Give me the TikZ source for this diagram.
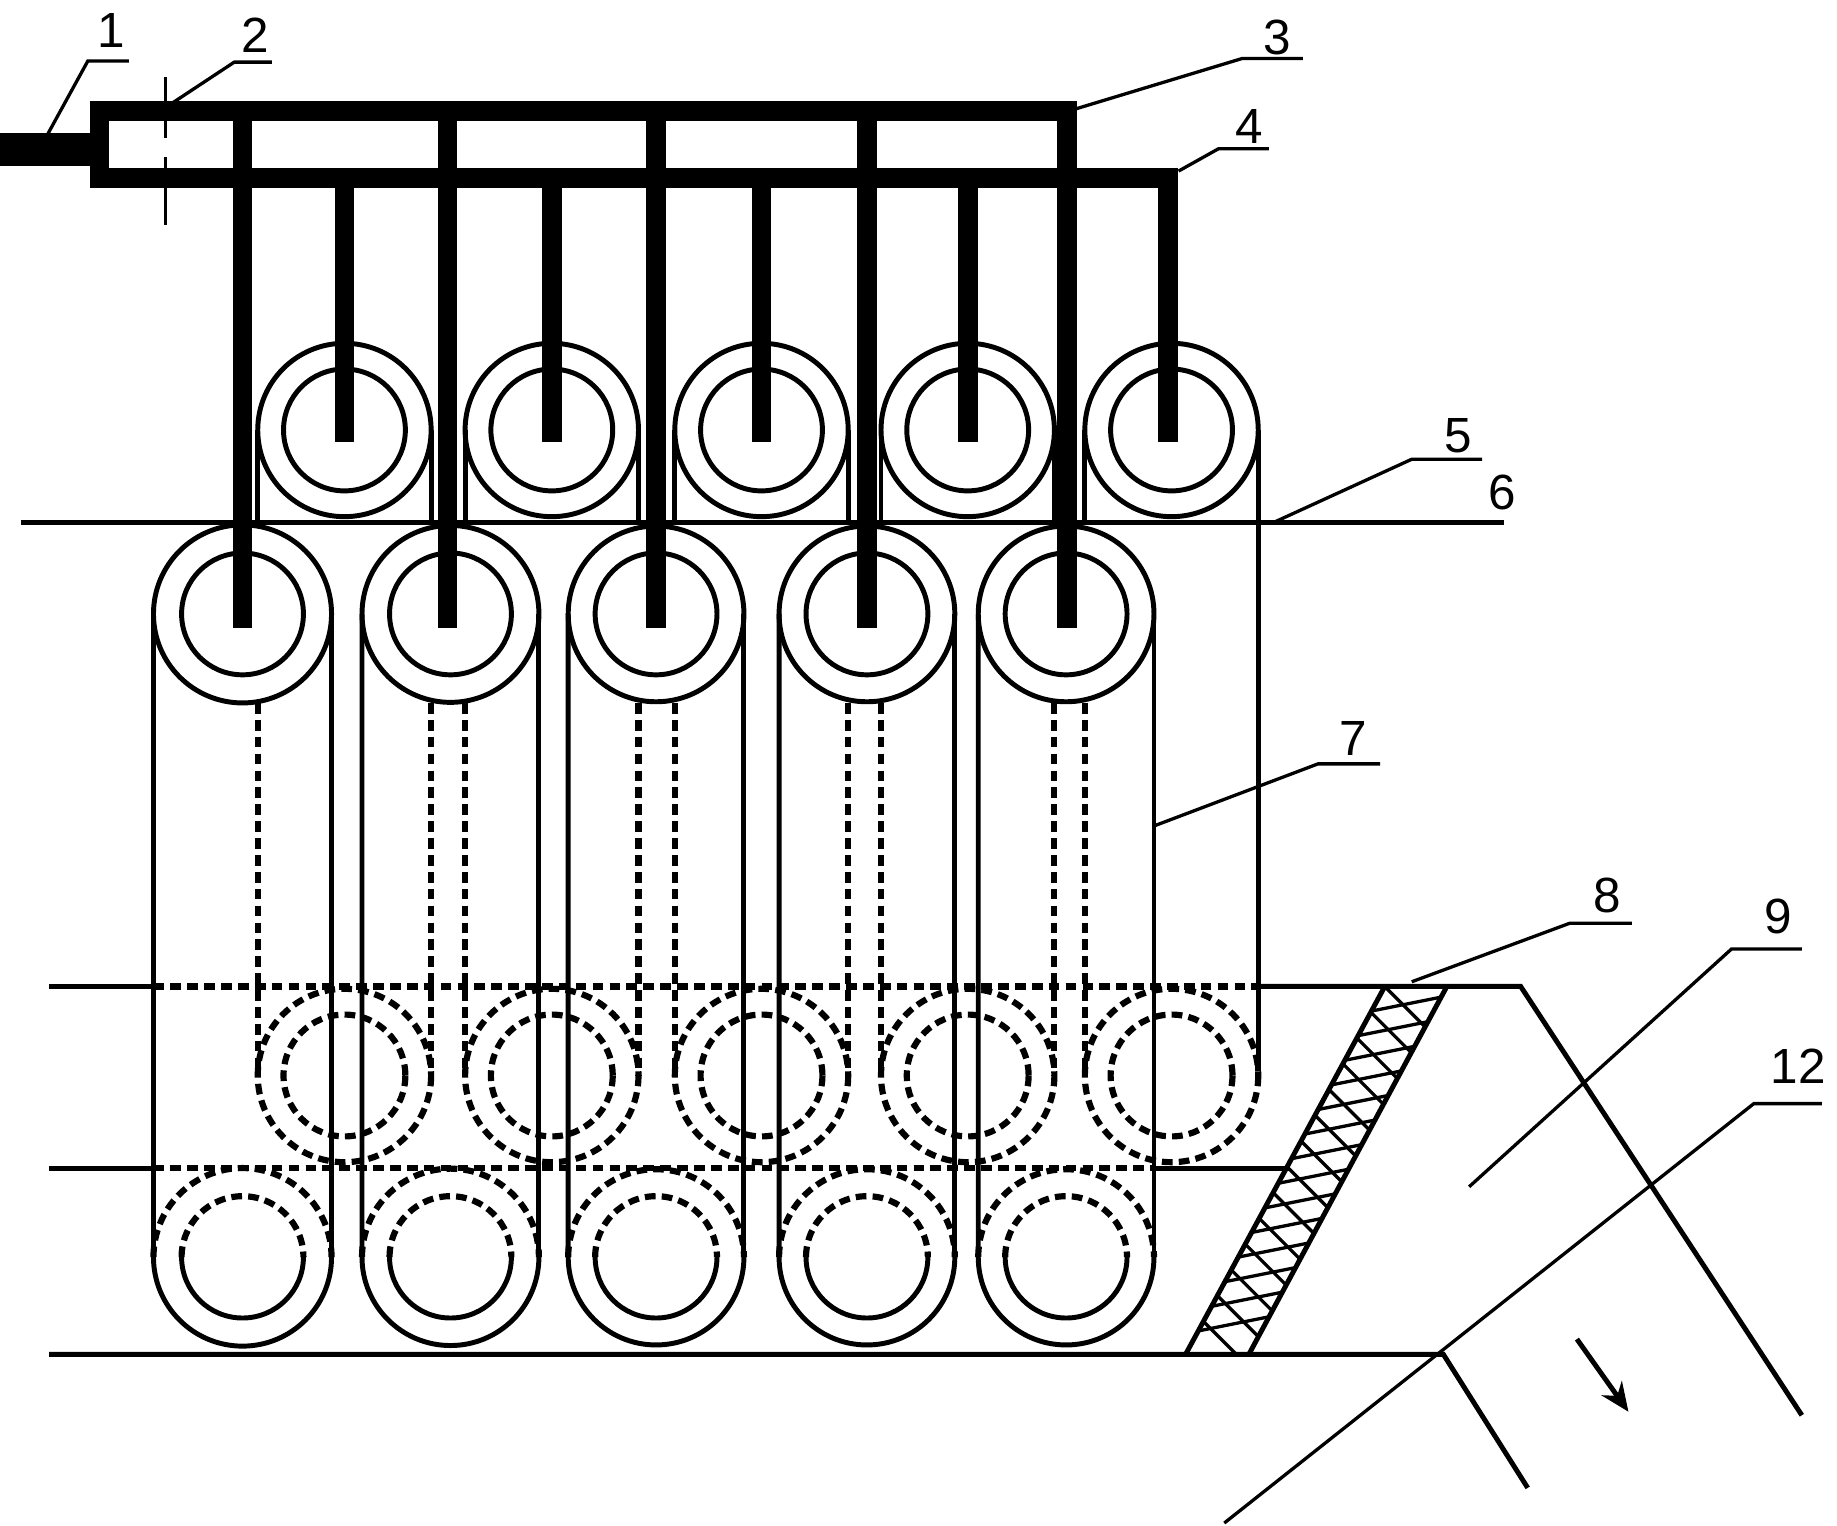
\documentclass[tikz,border=0pt]{standalone}
\usepackage{fontspec}
\setmainfont{Liberation Sans}
\usetikzlibrary{arrows.meta}

\tikzset{
    pipe/.style={line width=4.8pt, line join=miter},
    rollline/.style={line width=1.2pt},
    hiddenline/.style={line width=1.5pt, dash pattern=on 2.6pt off 1.5pt},
    wall/.style={line width=1.2pt},
    leader/.style={line width=.8pt},
    numlabel/.style={font=\fontsize{12}{12}\selectfont, inner sep=0pt}
}

\begin{document}
\begin{tikzpicture}[x=.01cm, y=-.01cm]
    \useasboundingbox (0,0) rectangle (1568,1302);

    %upper row of rollers, with their belt sides
    \foreach \x in {294,471,650,826,1000}{
        \draw[rollline] (\x,367) circle (74);
        \draw[rollline] (\x,367) circle (52);
        \draw[rollline] (\x-74,367) -- (\x-74,446);
        \draw[hiddenline] (\x-74,600) -- (\x-74,918);
        \draw[hiddenline] (\x,918) circle (74);
        \draw[hiddenline] (\x,918) circle (52);
    }
    \foreach \x in {294,471,650,826}
    \draw[rollline] (\x+74,367) -- (\x+74,446);
    \foreach \x in {294,471,650,826}
    \draw[hiddenline] (\x+74,600) -- (\x+74,918);
    \draw[rollline] (1074,367) -- (1074,905);
    \draw[hiddenline] (1074,905) -- (1074,918);

    %lower row of rollers and belts
    \foreach \x/\r in {207/76,384.5/75.5,560/75,740/75,910/75}{
        \draw[rollline] (\x,524) circle (\r);
        \draw[rollline] (\x,524) circle (52);
        \draw[rollline] (\x-\r,524) -- (\x-\r,1073) arc[start angle=180, delta angle=-180, radius=\r];
        \draw[rollline] (\x+\r,524) -- (\x+\r,1073);
        \draw[hiddenline] (\x-\r,1073) arc[start angle=180, delta angle=180, radius=\r];
        \draw[rollline] (\x-52,1073) arc[start angle=180, delta angle=-180, radius=52];
        \draw[hiddenline] (\x-52,1073) arc[start angle=180, delta angle=180, radius=52];
    }

    %level lines
    \draw[rollline] (18,446) -- (1284,446);
    \draw[wall] (42,842) -- (131,842);
    \draw[hiddenline] (131,842) -- (1075,842);
    \draw[wall] (1075,842) -- (1298,842) -- (1538,1208);
    \draw[wall] (42,997) -- (131,997);
    \draw[hiddenline] (131,997) -- (985,997);
    \draw[wall] (985,997) -- (1100,997);
    \draw[wall] (42,1156) -- (1232,1156) -- (1304,1270);

    %screen
    \begin{scope}
        \clip (1182,842) -- (1235,842) -- (1066,1156) -- (1012,1156) -- cycle;
        \foreach \n in {1,...,14}
        \draw[leader] (1182-.541*21*\n,842+21*\n) -- ++(100,-20);
        \foreach \n in {0,...,13}
        \draw[leader] (1182-.541*22*\n,842+22*\n) -- ++(60,60);
    \end{scope}
    \draw[wall] (1182,842) -- (1012,1156);
    \draw[wall] (1235,842) -- (1066,1156);

    %flow direction
    \coordinate (flowa) at (1346,1143);
    \coordinate (flowb) at (1390,1205);
    \draw[wall, -{Stealth[length=7pt, width=6pt]}] (flowa) -- (flowb);

    %pipes
    \draw[line width=8pt] (0,128) -- (80,128);
    \draw[pipe] (911,536) -- (911,95) -- (85,95) -- (85,152) -- (997,152) -- (997,377);
    \foreach \x in {207,382,560,740}
    \draw[pipe] (\x,95) -- (\x,536);
    \foreach \x in {294,471,650,826}
    \draw[pipe] (\x,152) -- (\x,377);

    %valve centre line
    \draw[line width=.8pt, dash pattern=on 14.8pt off 4.5pt on 16.5pt off 10pt] (141,66) -- (141,192);

    %labels and leaders
    \foreach \n/\lx/\ly/\tx/\ty/\kx/\ky/\ex in {
        1/95/26/41/114/75/52/110,
        2/218/30/147/88/200/53/232,
        3/1090/32/918/93/1060/50/1112,
        4/1066/108/1006/146/1040/127/1083,
        5/1245/372/1087/446/1205/392/1265,
        7/1155/630/985/705/1125/652/1178,
        8/1372/764/1205/838/1340/788/1393,
        9/1518/782/1254/1013/1478/810/1538,
        12/1535/910/1045/1300/1497/942/1555}{
        \node[numlabel] (num\n) at (\lx,\ly) {\n};
        \coordinate (tip\n) at (\tx,\ty);
        \coordinate (knee\n) at (\kx,\ky);
        \coordinate (end\n) at (\ex,\ky);
        \draw[leader] (tip\n) -- (knee\n) -- (end\n);
    }
    \node[numlabel] (num6) at (1282,420) {6};
\end{tikzpicture}
\end{document}
